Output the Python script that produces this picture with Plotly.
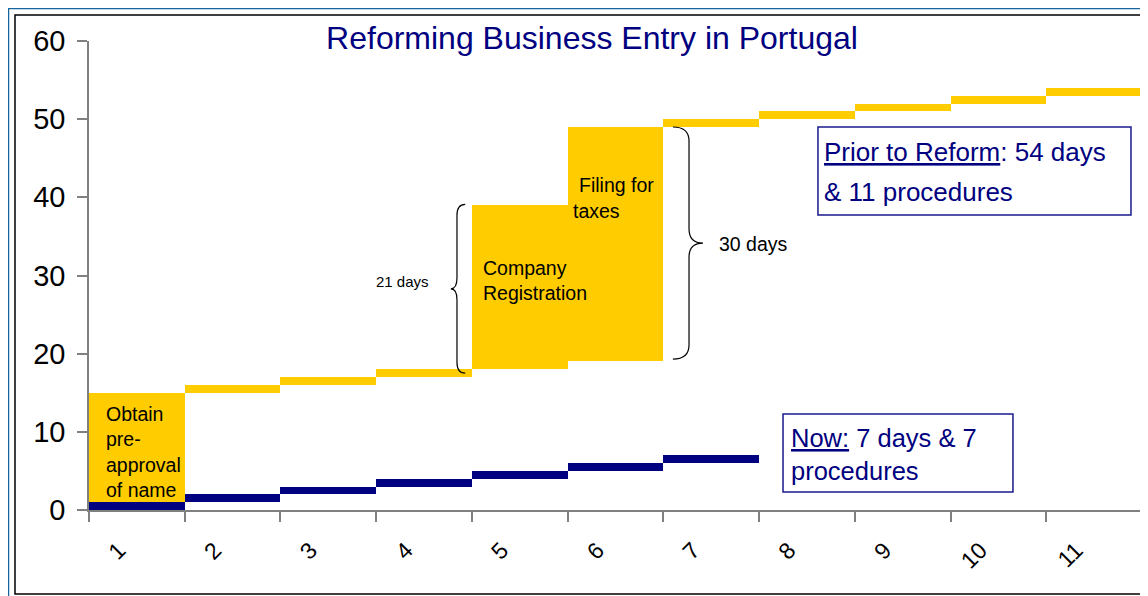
import plotly.graph_objects as go

# ---- data ----
procedures = [1, 2, 3, 4, 5, 6, 7, 8, 9, 10, 11]
tick_labels = ["1", "2", "3", "4", "5", "6", "7", "8", "9", "10", "11"]
prior_start = [0, 15, 16, 17, 18, 19, 49, 50, 51, 52, 53]
prior_days = [15, 1, 1, 1, 21, 30, 1, 1, 1, 1, 1]
now_procedures = [1, 2, 3, 4, 5, 6, 7]
now_start = [0, 1, 2, 3, 4, 5, 6]
now_days = [1, 1, 1, 1, 1, 1, 1]

GOLD = "#FFCC00"
NAVY = "#000080"
FONT = "Liberation Sans, Arial, sans-serif"

OFF = 8  # page body margin
W, H = 1148 - OFF, 596 - OFF
L, R, T, B = 89 - OFF, 6, 41 - OFF, 86
PW, PH = W - L - R, H - T - B


def px2paper(px, py):
    # page pixel -> paper coordinates
    fx, fy = px - OFF, py - OFF
    return (fx - L) / PW, (H - B - fy) / PH


fig = go.Figure()
fig.add_trace(go.Bar(x=procedures, y=prior_days, base=prior_start, width=1,
                     marker=dict(color=GOLD, line=dict(width=0)),
                     hoverinfo="skip", showlegend=False))
fig.add_trace(go.Bar(x=now_procedures, y=now_days, base=now_start, width=1,
                     marker=dict(color=NAVY, line=dict(width=0)),
                     hoverinfo="skip", showlegend=False))


def brace_path(xe, xv, xt, y0, y1, r):
    ym = (y0 + y1) / 2
    return (f"M {xe},{y1} Q {xv},{y1} {xv},{y1 - r} L {xv},{ym + r} "
            f"Q {xv},{ym} {xt},{ym} Q {xv},{ym} {xv},{ym - r} "
            f"L {xv},{y0 + r} Q {xv},{y0} {xe},{y0}")


shapes = []
# braces
shapes.append(dict(type="path", xref="x", yref="y",
                   path=brace_path(4.43, 4.344, 4.28, prior_start[4] - 0.5,
                                   prior_start[4] + prior_days[4] + 0.1, 1.4),
                   line=dict(color="black", width=1.2)))
shapes.append(dict(type="path", xref="x", yref="y",
                   path=brace_path(6.60, 6.768, 6.914, prior_start[5] + 0.3,
                                   prior_start[5] + prior_days[5], 1.8),
                   line=dict(color="black", width=1.2)))
# text boxes
shapes.append(dict(type="rect", xref="x", yref="y", x0=8.115, x1=11.385, y0=37.74, y1=49.0,
                   line=dict(color="#1a1a8c", width=1.5), fillcolor="rgba(0,0,0,0)"))
shapes.append(dict(type="rect", xref="x", yref="y", x0=7.75, x1=10.152, y0=2.30, y1=12.28,
                   line=dict(color="#1a1a8c", width=1.5), fillcolor="rgba(0,0,0,0)"))
# outer frames
bx0, by0 = px2paper(8, 8)
bx1, by1 = px2paper(1175, 625)
shapes.append(dict(type="rect", xref="paper", yref="paper", x0=bx0, y0=by0, x1=bx1, y1=by1,
                   line=dict(color="#15649e", width=2.5), layer="below"))
kx0, ky0 = px2paper(15, 15)
kx1, ky1 = px2paper(1175, 594)
shapes.append(dict(type="rect", xref="paper", yref="paper", x0=kx0, y0=ky0, x1=kx1, y1=ky1,
                   line=dict(color="black", width=1.5), layer="below"))

ann = []


def add_text(text, x, y, size, color="black", xanchor="left"):
    ann.append(dict(text=text, x=x, y=y, xref="x", yref="y", showarrow=False,
                    xanchor=xanchor, yanchor="middle", align="left",
                    font=dict(family=FONT, size=size, color=color)))


add_text("Obtain<br>pre-<br>approval<br>of name", 0.66, 7.48, 19.5)
add_text("Company<br>Registration", 4.59, 29.3, 19.5)
add_text("Filing for", 5.60, 41.58, 19.5)
add_text("taxes", 5.54, 38.25, 19.5)
add_text("21 days", 3.77, 29.17, 15, xanchor="center")
add_text("30 days", 7.065, 34.0, 19.5)
add_text("<u>Prior to Reform</u>: 54 days", 8.16, 45.8, 26, NAVY)
add_text("& 11 procedures", 8.16, 40.7, 26, NAVY)
add_text("<u>Now:</u> 7 days & 7<br>procedures", 7.81, 7.1, 25.5, NAVY)

fig.update_layout(
    width=W, height=H,
    margin=dict(l=L, r=R, t=T, b=B, pad=0),
    paper_bgcolor="white", plot_bgcolor="white",
    barmode="overlay", bargap=0,
    shapes=shapes, annotations=ann,
    title=dict(text="Reforming Business Entry in Portugal", x=(592 - OFF) / W, xanchor="center",
               y=1 - (38 - OFF) / H, yanchor="middle", xref="container", yref="container",
               font=dict(family=FONT, size=32, color=NAVY)),
    xaxis=dict(range=[0.5, 11.5], tickmode="array", tickvals=procedures, ticktext=tick_labels,
               ticks="", tickangle=-45, showgrid=False, zeroline=False,
               showline=True, linecolor="#808080", linewidth=1.5,
               tickfont=dict(family=FONT, size=23, color="black"),
               ticklabelstandoff=16, ticklabelshift=-18,
               minor=dict(tickmode="linear", tick0=0.5, dtick=1, ticks="outside",
                          ticklen=10, tickcolor="#808080", tickwidth=1.5, showgrid=False)),
    yaxis=dict(range=[0, 60], tickmode="array", tickvals=[0, 10, 20, 30, 40, 50, 60],
               ticks="outside", ticklen=10, tickcolor="#808080", tickwidth=1.5,
               showgrid=False, zeroline=False, showline=True, linecolor="#808080", linewidth=1.5,
               tickfont=dict(family=FONT, size=29, color="black"), ticklabelstandoff=6),
)

fig.write_html("out.html")
